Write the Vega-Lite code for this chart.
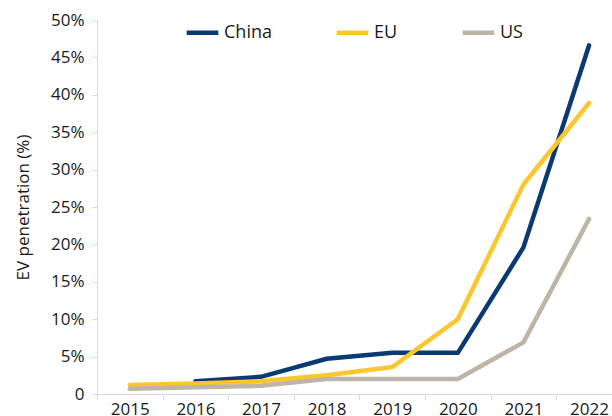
{
  "$schema": "https://vega.github.io/schema/vega-lite/v6.json",
  "width": 515,
  "height": 374,
  "autosize": {"type": "none"},
  "padding": {"left": 97, "top": 20, "right": 0, "bottom": 22},
  "background": "white",
  "config": {
    "view": {"stroke": null},
    "font": "Open Sans",
    "axis": {"labelColor": "#1a1a1a", "titleColor": "#1a1a1a", "domainColor": "#d9d9d9", "tickColor": "#d9d9d9", "labelFont": "Open Sans", "titleFont": "Open Sans", "titleFontWeight": "normal"}
  },
  "data": {
    "values": [
      {"year": 2016, "country": "China", "value": 1.7},
      {"year": 2017, "country": "China", "value": 2.3},
      {"year": 2018, "country": "China", "value": 4.7},
      {"year": 2019, "country": "China", "value": 5.5},
      {"year": 2020, "country": "China", "value": 5.5},
      {"year": 2021, "country": "China", "value": 19.6},
      {"year": 2022, "country": "China", "value": 46.6},
      {"year": 2015, "country": "EU", "value": 1.2},
      {"year": 2016, "country": "EU", "value": 1.4},
      {"year": 2017, "country": "EU", "value": 1.7},
      {"year": 2018, "country": "EU", "value": 2.5},
      {"year": 2019, "country": "EU", "value": 3.6},
      {"year": 2020, "country": "EU", "value": 10.0},
      {"year": 2021, "country": "EU", "value": 28.0},
      {"year": 2022, "country": "EU", "value": 38.9},
      {"year": 2015, "country": "US", "value": 0.7},
      {"year": 2016, "country": "US", "value": 0.9},
      {"year": 2017, "country": "US", "value": 1.1},
      {"year": 2018, "country": "US", "value": 2.0},
      {"year": 2019, "country": "US", "value": 2.0},
      {"year": 2020, "country": "US", "value": 2.0},
      {"year": 2021, "country": "US", "value": 6.9},
      {"year": 2022, "country": "US", "value": 23.4}
    ]
  },
  "mark": {"type": "line", "strokeWidth": 4.5, "strokeCap": "round"},
  "encoding": {
    "x": {
      "field": "year",
      "type": "quantitative",
      "scale": {"domain": [2014.5, 2022.35], "nice": false, "zero": false},
      "axis": {
        "title": null,
        "values": [2014.5, 2015.5, 2016.5, 2017.5, 2018.5, 2019.5, 2020.5, 2021.5],
        "labelExpr": "format(datum.value + 0.5, 'd')",
        "labelOffset": 32.8,
        "labelFlush": false,
        "labelOverlap": false,
        "labelBound": false,
        "grid": false,
        "tickSize": 6,
        "labelPadding": 1,
        "labelFontSize": 17
      }
    },
    "y": {
      "field": "value",
      "type": "quantitative",
      "scale": {"domain": [0, 50], "nice": false},
      "axis": {
        "title": "EV penetration (%)",
        "titleFontSize": 17,
        "titlePadding": 18,
        "values": [0, 5, 10, 15, 20, 25, 30, 35, 40, 45, 50],
        "labelExpr": "datum.value == 0 ? '0' : datum.value + '%'",
        "labelFontSize": 17,
        "grid": false,
        "tickSize": 5,
        "labelPadding": 8
      }
    },
    "color": {
      "field": "country",
      "type": "nominal",
      "scale": {"domain": ["China", "EU", "US"], "range": ["#0b3a73", "#fcc72e", "#bfb5a6"]},
      "legend": {
        "title": null,
        "orient": "none",
        "direction": "horizontal",
        "legendX": 87,
        "legendY": -6,
        "symbolType": "stroke",
        "symbolSize": 1000,
        "symbolStrokeWidth": 4.5,
        "labelFontSize": 18,
        "labelColor": "#1a1a1a",
        "labelOffset": 3,
        "columnPadding": 55
      }
    }
  }
}
